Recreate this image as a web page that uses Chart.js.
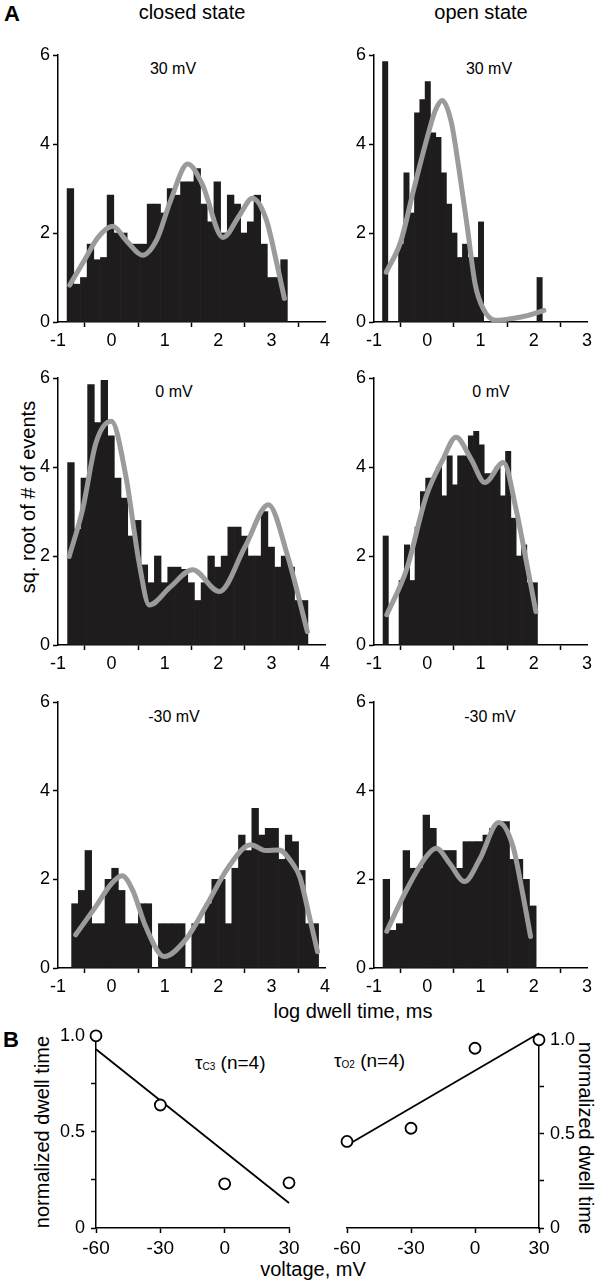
<!DOCTYPE html>
<html>
<head>
<meta charset="utf-8">
<script src="https://cdn.jsdelivr.net/npm/chart.js@4.4.0/dist/chart.umd.min.js"></script>
<style>
  body { margin: 0; width: 601px; height: 1280px; position: relative; background: #fff; overflow: hidden;
         font-family: "Liberation Sans", Arial, sans-serif; color: #000; }
  canvas { position: absolute; }
  .t { position: absolute; white-space: nowrap; line-height: 1; }
  .c { transform: translateX(-50%); }
  .rl { transform: translate(-50%, -50%) rotate(-90deg); }
  .rr { transform: translate(-50%, -50%) rotate(90deg); }
  .b { font-weight: bold; font-size: 22px; }
  .ttl { font-size: 20px; }
  .mv { font-size: 16px; }
  .tau { font-size: 19px; }
  .tau sub { font-size: 10px; vertical-align: baseline; position: relative; top: 1px; }
</style>
</head>
<body>
<div class="t b" style="left:4px;top:3px">A</div>
<div class="t ttl c" style="left:192px;top:2px">closed state</div>
<div class="t ttl c" style="left:481px;top:2px">open state</div>

<div class="t mv c" style="left:173px;top:61px">30 mV</div>
<div class="t mv c" style="left:489px;top:61px">30 mV</div>
<div class="t mv c" style="left:174px;top:384px">0 mV</div>
<div class="t mv c" style="left:491px;top:384px">0 mV</div>
<div class="t mv c" style="left:174px;top:709px">-30 mV</div>
<div class="t mv c" style="left:490px;top:709px">-30 mV</div>

<div class="t ttl rl" style="left:28px;top:497px">sq. root of # of events</div>
<div class="t ttl c" style="left:353px;top:1001px">log dwell time, ms</div>

<div class="t b" style="left:3px;top:1029px">B</div>
<div class="t ttl rl" style="left:42px;top:1132px">normalized dwell time</div>
<div class="t ttl rr" style="left:586px;top:1138px">normalized dwell time</div>
<div class="t ttl c" style="left:313px;top:1259px">voltage, mV</div>
<div class="t tau" style="left:195px;top:1053px">τ<sub>C3</sub> (n=4)</div>
<div class="t tau" style="left:334px;top:1051px">τ<sub>O2</sub> (n=4)</div>

<canvas id="closed30" width="340" height="310" style="left:0;top:40px"></canvas>
<canvas id="open30" width="285" height="310" style="left:316px;top:40px"></canvas>
<canvas id="closed0" width="340" height="310" style="left:0;top:363px"></canvas>
<canvas id="open0" width="285" height="310" style="left:316px;top:363px"></canvas>
<canvas id="closedM30" width="340" height="309" style="left:0;top:687px"></canvas>
<canvas id="openM30" width="285" height="309" style="left:316px;top:687px"></canvas>
<canvas id="tauC3" width="310" height="235" style="left:0;top:1019px"></canvas>
<canvas id="tauO2" width="281" height="231" style="left:320px;top:1023px"></canvas>

<script>
// ---- histograms (sq. root of # of events per log bin)
const closed30Start = -0.83, closed30Bin = 0.125;
const closed30Heights = [3.0, 0.85, 1.0, 1.75, 1.4, 1.45, 2.85, 2.0, 2.0, 1.75, 1.75, 1.75, 2.65, 2.65, 2.45, 3.0, 2.85,
  3.15, 3.15, 3.45, 2.65, 2.25, 3.15, 2.0, 2.85, 2.65, 2.0, 2.25, 2.85, 1.75, 1.0, 1.0, 1.4];
const closed30FitX = [-0.78, -0.5, -0.25, 0.02, 0.3, 0.58, 0.85, 1.1, 1.43, 1.7, 2.09, 2.4, 2.64, 2.9, 3.1, 3.24];
const closed30FitY = [0.83, 1.4, 1.9, 2.15, 1.8, 1.5, 1.85, 2.7, 3.55, 3.1, 1.9, 2.4, 2.78, 2.3, 1.3, 0.53];

const open30Start = -0.84, open30Bin = 0.1;
const open30Heights = [5.85, 0, 0, 1.75, 3.35, 2.45, 4.7, 5.0, 5.4, 4.25, 4.15, 3.35, 2.65, 2.0, 1.45, 1.75, 1.45, 1.45,
  2.25, 0, 0, 0, 0, 0, 0, 0, 0, 0, 0, 1.0];
const open30FitX = [-0.77, -0.5, -0.25, 0, 0.15, 0.28, 0.45, 0.6, 0.75, 0.9, 1.05, 1.28, 1.6, 1.9, 2.19];
const open30FitY = [1.12, 1.8, 3.0, 4.15, 4.75, 4.98, 4.5, 3.4, 2.15, 0.85, 0.3, 0.04, 0.08, 0.15, 0.26];

const closed0Start = -0.82, closed0Bin = 0.125;
const closed0Heights = [4.1, 2.6, 3.75, 5.85, 5.0, 5.95, 4.7, 3.75, 3.3, 2.45, 2.8, 1.8, 1.4, 2.0, 1.4, 1.75, 1.75, 1.7,
  1.4, 1.0, 1.4, 2.0, 1.75, 2.0, 2.65, 2.65, 2.45, 2.0, 2.0, 3.0, 2.2, 1.75, 2.0, 1.75, 1.0, 1.0];
const closed0FitX = [-0.79, -0.54, -0.29, 0, 0.27, 0.52, 0.71, 1.1, 1.52, 2.02, 2.5, 2.94, 3.3, 3.67];
const closed0FitY = [1.99, 3.04, 4.54, 5.03, 3.8, 1.84, 0.9, 1.3, 1.69, 1.2, 2.2, 3.15, 2.0, 0.3];

const open0Start = -0.83, open0Bin = 0.1;
const open0Heights = [2.45, 0, 0, 1.45, 2.25, 1.45, 2.65, 3.45, 3.75, 3.75, 4.0, 3.35, 4.25, 3.6, 4.25, 4.25, 4.7, 4.8,
  4.5, 3.85, 3.85, 4.0, 3.35, 4.35, 2.85, 2.0, 2.25, 1.4, 1.4];
const open0FitX = [-0.76, -0.39, -0.02, 0.29, 0.54, 0.83, 1.08, 1.43, 1.67, 1.89, 2.04];
const open0FitY = [0.68, 1.69, 3.34, 4.16, 4.67, 4.16, 3.65, 4.1, 3.04, 1.69, 0.75];

const closedM30Start = -0.745, closedM30Bin = 0.125;
const closedM30Heights = [1.45, 1.75, 2.65, 1.0, 1.0, 2.0, 2.25, 1.75, 1.0, 1.0, 1.45, 1.45, 0, 1.0, 1.0, 1.0, 1.0, 0,
  1.0, 1.0, 1.45, 2.0, 2.0, 1.0, 2.25, 3.0, 2.65, 3.6, 3.0, 3.15, 3.15, 2.45, 3.0, 2.85, 2.2, 1.0, 1.0];
const closedM30FitX = [-0.67, -0.29, 0.0, 0.2, 0.4, 0.64, 0.99, 1.39, 1.77, 2.2, 2.61, 2.89, 3.14, 3.39, 3.53, 3.7, 3.86];
const closedM30FitY = [0.75, 1.39, 1.9, 2.08, 1.75, 0.94, 0.26, 0.64, 1.39, 2.29, 2.78, 2.65, 2.66, 2.36, 2.05, 1.2, 0.37];

const openM30Start = -0.83, openM30Bin = 0.125;
const openM30Heights = [2.0, 0.85, 1.0, 2.65, 2.25, 2.25, 3.45, 3.15, 2.65, 2.65, 2.65, 2.25, 2.85, 2.85, 2.85, 3.0,
  3.15, 3.3, 3.3, 2.45, 2.45, 2.0, 1.4];
const openM30FitX = [-0.76, -0.39, -0.02, 0.17, 0.42, 0.7, 0.98, 1.34, 1.61, 1.79, 1.94];
const openM30FitY = [0.83, 1.76, 2.51, 2.7, 2.36, 1.95, 2.44, 3.28, 2.74, 1.69, 0.71];

// ---- panel B
const voltages = [-60, -30, 0, 30];
const tauC3 = [1.0, 0.64, 0.23, 0.235];
const tauC3FitX = [-60, 30], tauC3FitY = [0.93, 0.13];
const tauO2 = [0.46, 0.53, 0.955, 1.0];
const tauO2FitX = [-60, 30], tauO2FitY = [0.44, 1.035];

const barColor = '#1f1c1d';
const fitColor = '#9b9b9b';
const font = { family: '"Liberation Sans", Arial, sans-serif' };

function axisStyle() {
  return {
    grid: { display: true, drawOnChartArea: false, drawTicks: true, tickLength: 5, tickWidth: 1.5, tickColor: '#000', color: '#000' },
    border: { display: true, color: '#000', width: 1.5 }
  };
}

function histogram(id, start, bin, heights, fitX, fitY, xMax, padRight) {
  const bars = heights.map((h, i) => ({ x: start + (i + 0.5) * bin, y: h }));
  const fit = fitX.map((x, i) => ({ x: x, y: fitY[i] }));
  new Chart(document.getElementById(id), {
    type: 'bar',
    data: {
      datasets: [
        { type: 'line', data: fit, borderColor: fitColor, borderWidth: 5, pointRadius: 0,
          cubicInterpolationMode: 'monotone', borderCapStyle: 'round', borderJoinStyle: 'round', clip: false, order: 0 },
        { data: bars, backgroundColor: barColor, borderWidth: 0, barPercentage: 1, categoryPercentage: 1, order: 1 }
      ]
    },
    options: {
      responsive: false,
      animation: false,
      layout: { padding: { top: 15, right: padRight, left: 0, bottom: 0 } },
      plugins: { legend: { display: false }, tooltip: { enabled: false } },
      scales: {
        x: Object.assign(axisStyle(), {
          type: 'linear', min: -1, max: xMax, offset: false,
          ticks: { stepSize: 1, color: '#000', padding: 3, font: Object.assign({ size: 18 }, font) },
          afterFit: s => { s.height = 28; }
        }),
        y: Object.assign(axisStyle(), {
          min: 0, max: 6,
          ticks: { stepSize: 2, color: '#000', padding: 3, font: Object.assign({ size: 18 }, font) },
          afterFit: s => { s.width = 58; }
        })
      }
    }
  });
}

histogram('closed30', closed30Start, closed30Bin, closed30Heights, closed30FitX, closed30FitY, 4, 15);
histogram('open30', open30Start, open30Bin, open30Heights, open30FitX, open30FitY, 3, 14);
histogram('closed0', closed0Start, closed0Bin, closed0Heights, closed0FitX, closed0FitY, 4, 15);
histogram('open0', open0Start, open0Bin, open0Heights, open0FitX, open0FitY, 3, 14);
histogram('closedM30', closedM30Start, closedM30Bin, closedM30Heights, closedM30FitX, closedM30FitY, 4, 15);
histogram('openM30', openM30Start, openM30Bin, openM30Heights, openM30FitX, openM30FitY, 3, 14);

function tauPlot(id, values, fitX, fitY, side, padding, yWidth) {
  new Chart(document.getElementById(id), {
    type: 'scatter',
    data: {
      datasets: [
        { data: voltages.map((v, i) => ({ x: v, y: values[i] })), pointRadius: 5.5, pointBorderWidth: 1.8,
          pointBorderColor: '#000', pointBackgroundColor: '#fff', showLine: false, clip: false, order: 0 },
        { data: fitX.map((x, i) => ({ x: x, y: fitY[i] })), showLine: true, borderColor: '#000', borderWidth: 1.8,
          pointRadius: 0, clip: false, order: 1 }
      ]
    },
    options: {
      responsive: false,
      animation: false,
      layout: { padding: padding },
      plugins: { legend: { display: false }, tooltip: { enabled: false } },
      scales: {
        x: Object.assign(axisStyle(), {
          type: 'linear', min: -60, max: 30,
          ticks: { stepSize: 30, color: '#000', padding: 4, font: Object.assign({ size: 19 }, font) },
          afterFit: s => { s.height = 26; }
        }),
        y: Object.assign(axisStyle(), {
          position: side, min: 0, max: 1,
          ticks: { stepSize: 0.25, autoSkip: false, color: '#000', padding: 6, font: Object.assign({ size: 18 }, font),
            callback: v => (v === 0 ? '0' : v === 0.5 ? '0.5' : v === 1 ? '1.0' : '') },
          afterFit: s => { s.width = yWidth; }
        })
      }
    }
  });
}

tauPlot('tauC3', tauC3, tauC3FitX, tauC3FitY, 'left', { top: 15, right: 21, left: 0, bottom: 0 }, 96);
tauPlot('tauO2', tauO2, tauO2FitX, tauO2FitY, 'right', { top: 15, right: 0, left: 27, bottom: 0 }, 62);
</script>
</body>
</html>
